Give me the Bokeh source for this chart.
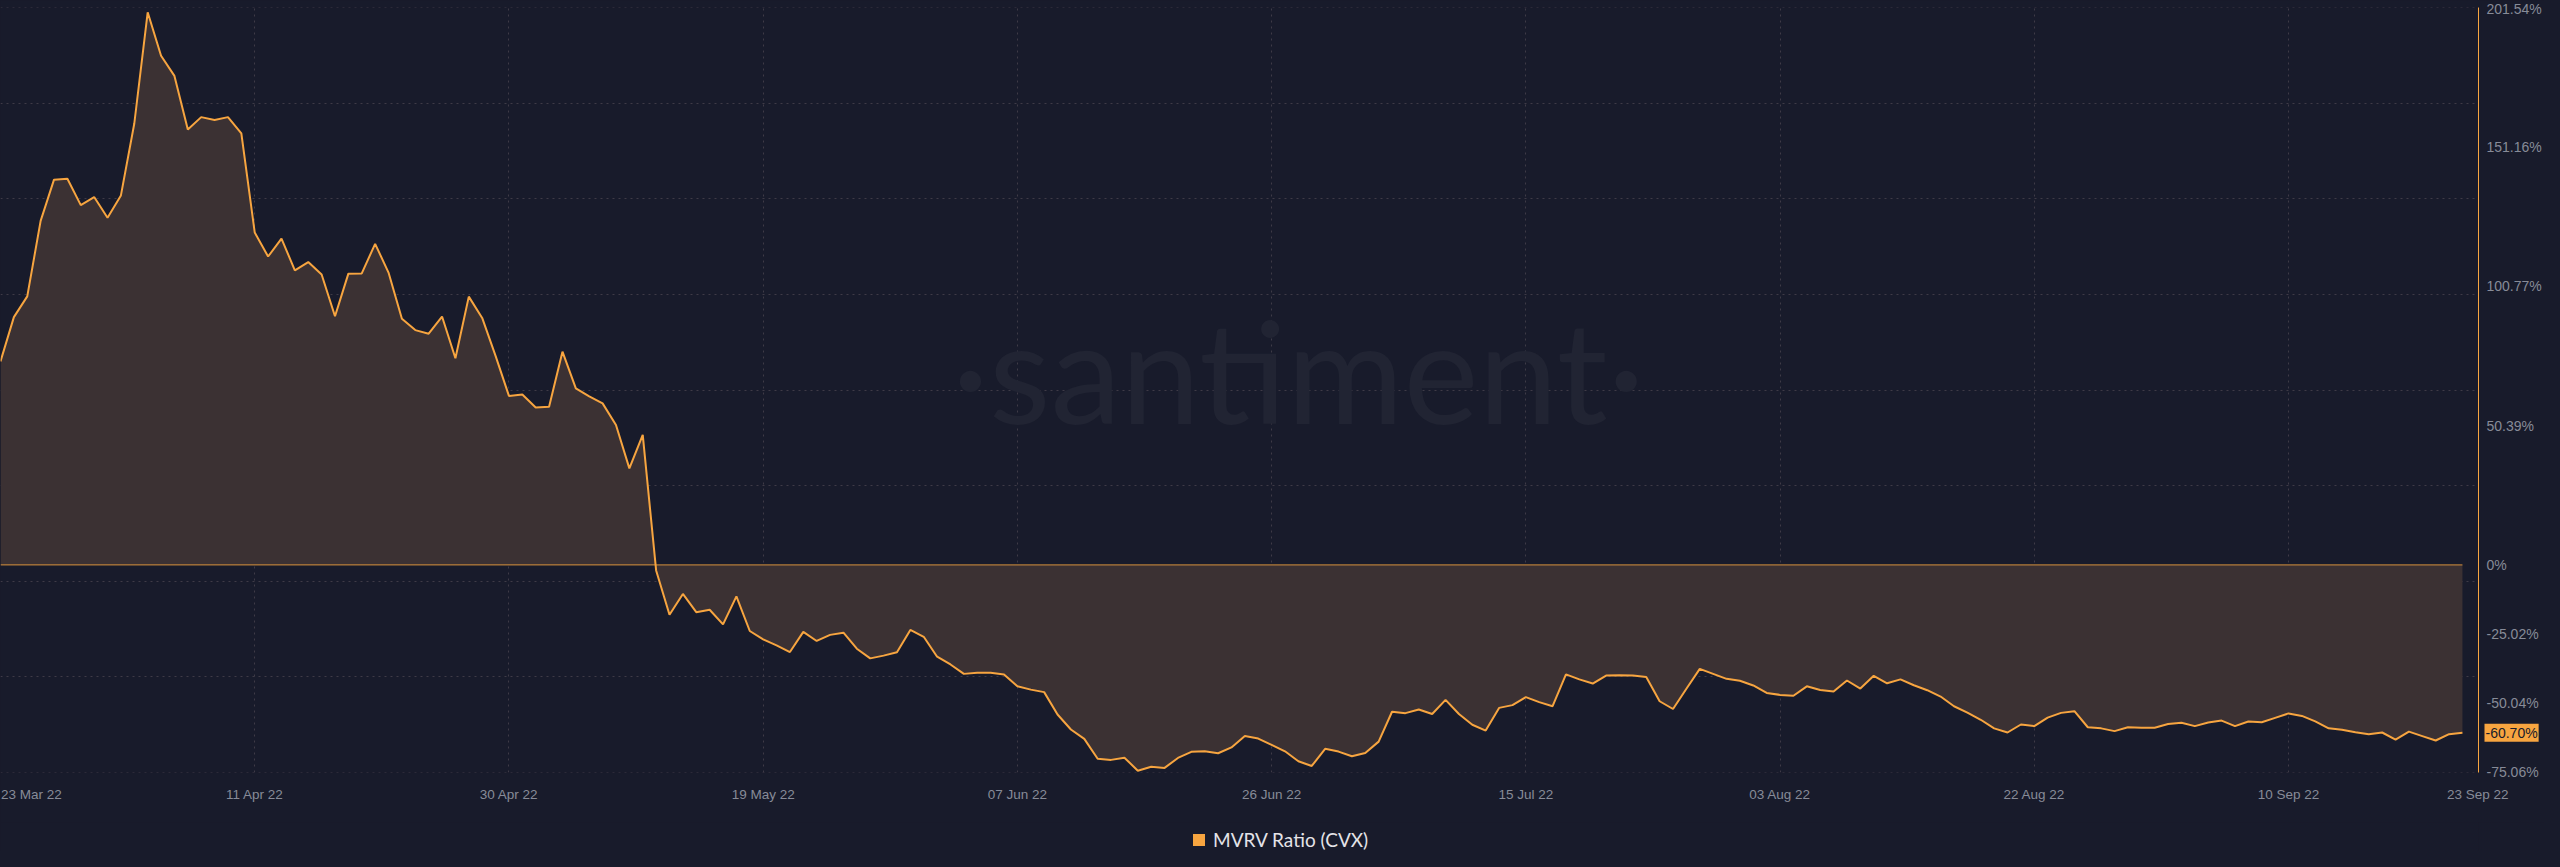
import pandas as pd
from bokeh.plotting import figure
from bokeh.layouts import column
from bokeh.models import (Range1d, FixedTicker, CustomJSTickFormatter, Label,
                          Legend, LegendItem, ColumnDataSource)
from bokeh.embed import file_html
from bokeh.resources import INLINE

# ---------------- data ----------------
start_date = "2022-03-23"
series_name = "MVRV Ratio (CVX)"
mvrv = [
    73.6, 89.6, 97.1, 124.4, 139.3, 139.6, 130.1, 133.0, 125.5, 133.6,
    159.6, 199.8, 184.1, 176.8, 157.4, 161.9, 160.9, 161.9, 156.0, 120.2,
    111.5, 118.0, 106.5, 109.5, 105.0, 89.9, 105.3, 105.4, 116.1, 105.7,
    89.0, 84.9, 83.6, 89.8, 74.7, 97.0, 89.3, 75.6, 61.1, 61.6,
    56.9, 57.2, 77.1, 63.8, 60.9, 58.4, 50.6, 34.9, 47.0, -2.0,
    -18.0, -10.5, -17.1, -16.2, -21.5, -11.4, -23.9, -26.9, -29.1, -31.5,
    -24.2, -27.5, -25.3, -24.5, -30.3, -33.8, -32.8, -31.6, -23.5, -26.0,
    -33.2, -36.0, -39.4, -39.0, -39.0, -39.6, -43.9, -45.1, -46.0, -54.1,
    -59.5, -62.9, -70.1, -70.5, -69.7, -74.4, -73.0, -73.4, -69.8, -67.6,
    -67.4, -68.1, -66.0, -61.9, -62.8, -65.1, -67.4, -71.0, -72.7, -66.5,
    -67.5, -69.2, -68.0, -63.9, -53.1, -53.6, -52.3, -53.9, -48.8, -53.9,
    -57.8, -59.9, -51.7, -50.7, -47.8, -49.6, -51.1, -39.6, -41.4, -42.9,
    -40.0, -39.9, -40.0, -40.5, -49.3, -52.1, -44.8, -37.6, -39.4, -41.2,
    -41.9, -43.6, -46.3, -47.0, -47.3, -43.9, -45.2, -45.8, -41.8, -44.7,
    -40.1, -42.8, -41.4, -43.5, -45.3, -47.6, -51.1, -53.4, -56.0, -59.1,
    -60.6, -57.7, -58.3, -55.2, -53.5, -52.9, -58.7, -59.1, -60.1, -58.7,
    -58.9, -58.9, -57.5, -57.1, -58.3, -57.0, -56.3, -58.3, -56.6, -56.9,
    -55.3, -53.7, -54.6, -56.6, -59.1, -59.6, -60.5, -61.2, -60.6, -63.2,
    -60.3, -61.9, -63.5, -61.2, -60.70,
]
y_ticks = [201.54, 151.16, 100.77, 50.39, 0, -25.02, -50.04, -75.06]
x_tick_labels = ["23 Mar 22", "11 Apr 22", "30 Apr 22", "19 May 22", "07 Jun 22",
                 "26 Jun 22", "15 Jul 22", "03 Aug 22", "22 Aug 22", "10 Sep 22",
                 "23 Sep 22"]
x_tick_step_days = 19
last_value_label = "-60.70%"

# ---------------- style ----------------
BG = "#181b2b"
FILL = "#3b3133"
ORANGE = "#f7a540"
GRID = "#3e3b47"
TICK_TEXT = "#878b98"
LEGEND_TEXT = "#e4e4e8"

dates = pd.date_range(start_date, periods=len(mvrv), freq="D")
src = ColumnDataSource(dict(date=dates, v=mvrv))

day = pd.Timedelta(days=1)
x_start = dates[0]
x_end = dates[-1] + 1.2 * day
y_lo, y_hi = min(y_ticks), max(y_ticks)


def ms(ts):
    return ts.value / 1e6


p = figure(width=2544, height=822, x_axis_type="datetime",
           x_range=Range1d(x_start, x_end),
           y_range=Range1d(y_lo - 0.001, y_hi + 0.001),
           y_axis_location="right",
           output_backend="svg", toolbar_location=None,
           min_border_left=0, min_border_right=0,
           min_border_top=7, min_border_bottom=40,
           background_fill_color=BG, border_fill_color=BG,
           outline_line_color=None)

# area + lines
p.varea(x="date", y1=0, y2="v", source=src, fill_color=FILL, fill_alpha=1)
p.line(x=[dates[0], dates[-1]], y=[0, 0], line_color=ORANGE, line_width=1, line_alpha=0.85)
p.line(x="date", y="v", source=src, line_color=ORANGE, line_width=2)

# y axis
p.yaxis.ticker = FixedTicker(ticks=y_ticks)
p.yaxis.formatter = CustomJSTickFormatter(
    code="return tick === 0 ? '0%' : tick.toFixed(2) + '%';")
p.yaxis.axis_line_color = ORANGE
p.yaxis.axis_line_width = 1
p.yaxis.major_tick_line_color = None
p.yaxis.minor_tick_line_color = None
p.yaxis.major_tick_out = 0
p.yaxis.major_label_standoff = 8
p.yaxis.axis_label_standoff = 0
p.yaxis.major_label_text_color = TICK_TEXT
p.yaxis.major_label_text_font = "Liberation Sans"
p.yaxis.major_label_text_font_size = "14px"

# x axis ticks (edge labels nudged inside the frame)
mid_ticks = [dates[i] for i in range(x_tick_step_days, len(dates) - 1, x_tick_step_days)]
x_ticks = [x_start + 2.3 * day] + mid_ticks + [x_end - 0.05 * day]
p.xaxis.ticker = FixedTicker(ticks=[ms(t) for t in x_ticks])
p.xaxis.formatter = CustomJSTickFormatter(args=dict(labels=x_tick_labels),
                                          code="return labels[index];")
p.xaxis.axis_line_color = None
p.xaxis.major_tick_line_color = None
p.xaxis.minor_tick_line_color = None
p.xaxis.major_tick_out = 0
p.xaxis.major_label_standoff = 14
p.xaxis.axis_label_standoff = 0
p.xaxis.major_label_text_color = TICK_TEXT
p.xaxis.major_label_text_font = "Liberation Sans"
p.xaxis.major_label_text_font_size = "13.5px"

# grids
grid_step = (y_hi - y_lo) / 8
p.ygrid.ticker = FixedTicker(ticks=[y_lo + k * grid_step for k in range(9)])
p.xgrid.ticker = FixedTicker(ticks=[ms(t) for t in mid_ticks])
for g in (p.xgrid, p.ygrid):
    g.grid_line_color = GRID
    g.grid_line_dash = "2 4"
    g.grid_line_width = 1

# watermark
p.add_layout(Label(x=x_start + 97.0 * day, y=71.0, text="\u00b7santiment\u00b7",
                   text_align="center", text_baseline="alphabetic",
                   text_font="Lato", text_font_size="142px",
                   text_color="#212433"))

# last value tag (kept in a side panel so it is not clipped to the frame)
p.add_layout(Label(x=x_end, y=mvrv[-1], x_offset=6, text=last_value_label,
                   text_align="left", text_baseline="middle",
                   text_font="Liberation Sans", text_font_size="14px",
                   text_color=BG, background_fill_color=ORANGE, padding=1), "below")

# legend strip below the chart
lg = figure(width=2544, height=29, output_backend="svg", toolbar_location=None,
            x_range=Range1d(0, 1), y_range=Range1d(0, 1),
            min_border=0, background_fill_color=BG, border_fill_color=BG,
            outline_line_color=None)
lg.axis.visible = False
lg.grid.visible = False
swatch = lg.quad(left=[0], right=[0], top=[0], bottom=[0],
                 fill_color=ORANGE, line_color=None)
legend = Legend(items=[LegendItem(label=series_name, renderers=[swatch])],
                location=(1191, 0), orientation="horizontal",
                background_fill_alpha=0, border_line_color=None,
                label_text_color=LEGEND_TEXT, label_text_font="Lato",
                label_text_font_size="19px", glyph_width=15, glyph_height=15,
                label_standoff=7, margin=0, padding=3)
lg.add_layout(legend)

open("out.html", "w").write(
    file_html(column(p, lg, spacing=0), INLINE).replace(
        "<head>", "<head><style>html, body { background: %s; }</style>" % BG, 1))
